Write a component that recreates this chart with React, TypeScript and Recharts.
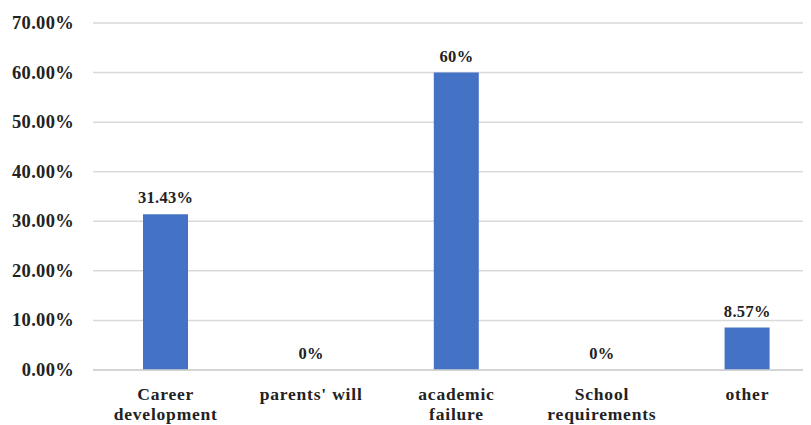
import React from "react";
import { ComposedChart, Bar, Line, XAxis, YAxis, CartesianGrid, LabelList } from "recharts";

const categories = ["Career development", "parents' will", "academic failure", "School requirements", "other"];
const categoryLines = [["Career", "development"], ["parents' will"], ["academic", "failure"], ["School", "requirements"], ["other"]];
const values = [0.3143, 0, 0.6, 0, 0.0857];
const valueLabels = ["31.43%", "0%", "60%", "0%", "8.57%"];
const yTicks = [0, 0.1, 0.2, 0.3, 0.4, 0.5, 0.6, 0.7];

const data = categories.map((c, i) => ({ name: c, value: values[i], label: valueLabels[i] }));

const FONT = "Liberation Serif";

const XTick = (props: any) => {
  const { x, y, payload, index } = props;
  const lines = categoryLines[index] || [payload.value];
  return (
    <g transform={`translate(${x},${y})`}>
      {lines.map((l: string, i: number) => (
        <text key={i} x={0} y={22 + i * 20} textAnchor="middle" fill="#222" style={{ fontFamily: FONT, fontWeight: 700, fontSize: 17.5, letterSpacing: 0.8 }}>
          {l}
        </text>
      ))}
    </g>
  );
};

const YTick = (props: any) => {
  const { x, y, payload } = props;
  return (
    <text x={x} y={y} dy={6} textAnchor="end" fill="#222" style={{ fontFamily: FONT, fontWeight: 700, fontSize: 18.5, letterSpacing: 0.3 }}>
      {(payload.value * 100).toFixed(2) + "%"}
    </text>
  );
};

const TopLabel = (props: any) => {
  const { x, y, value } = props;
  return (
    <text x={x} y={y - 11} textAnchor="middle" fill="#222" style={{ fontFamily: FONT, fontWeight: 700, fontSize: 16.5, letterSpacing: 0.3 }}>
      {value}
    </text>
  );
};

export default function App() {
  return (
    <div style={{ width: 820, height: 417, background: "#fff" }}>
      <ComposedChart width={820} height={417} data={data} margin={{ top: 15, right: 8, bottom: 0, left: 0 }}>
        <CartesianGrid vertical={false} stroke="#d9d9d9" strokeWidth={1.5} />
        <XAxis dataKey="name" tick={<XTick />} tickLine={false} axisLine={{ stroke: "#d0d0d0", strokeWidth: 1.5 }} interval={0} height={55} />
        <YAxis
          domain={[0, 0.7]}
          ticks={yTicks}
          tickLine={false}
          axisLine={false}
          width={85}
          tickMargin={13}
          tick={<YTick />}
        />
        <Bar dataKey="value" fill="#4472C4" barSize={45} isAnimationActive={false} />
        <Line dataKey="value" stroke="none" dot={false} activeDot={false} isAnimationActive={false}>
          <LabelList dataKey="label" content={<TopLabel />} />
        </Line>
      </ComposedChart>
    </div>
  );
}
